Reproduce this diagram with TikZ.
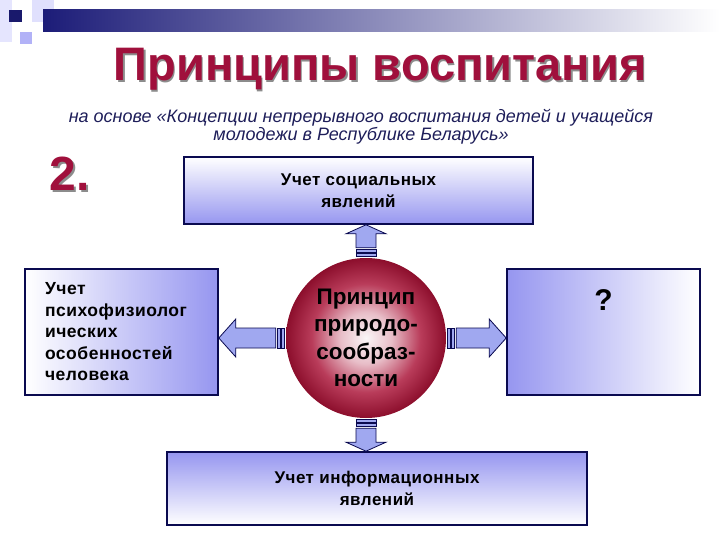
\documentclass[tikz,border=0pt]{standalone}
\usepackage{fontspec}
\setmainfont{Liberation Sans}
\newfontfamily\boxfont[LetterSpace=3]{Liberation Sans}
\usetikzlibrary{calc,shapes.geometric}
\definecolor{navy}{RGB}{10,10,80}
\definecolor{lav}{RGB}{150,150,240}
\definecolor{arrowc}{RGB}{160,168,240}
\definecolor{crim}{RGB}{160,16,60}
\definecolor{subc}{RGB}{30,30,90}
\definecolor{bandc}{RGB}{28,28,120}
\definecolor{ballA}{RGB}{250,246,247}
\definecolor{ballB}{RGB}{232,190,200}
\definecolor{ballC}{RGB}{185,60,90}
\definecolor{ballD}{RGB}{140,14,44}
\pgfdeclareradialshading{ballshade}{\pgfpointorigin}{color(0bp)=(ballA); color(8bp)=(ballB); color(17bp)=(ballC); color(25bp)=(ballD); color(50bp)=(ballD)}
\tikzset{
  box/.style={draw=navy, line width=1.6pt, rectangle, inner sep=0pt},
  boxtxt/.style={font=\boxfont\bfseries\fontsize{17}{22}\selectfont, text=black},
  arr/.style={draw=navy, line width=0.8pt, fill=arrowc, line join=miter},
}
\begin{document}
\begin{tikzpicture}[x=1pt,y=-1pt]
\useasboundingbox (0,0) rectangle (720,540);
\fill[white] (0,0) rectangle (720,540);
% corner decoration
\fill[black!4!blue!10!white] (0,0) rectangle (12,42);
\fill[black!6!blue!12!white] (32,0) rectangle (54,22);
\shade[left color=bandc, right color=white] (43,10) rectangle (720,32);
\fill[bandc!90!black] (9,10) rectangle (22,22);
\fill[black!10!blue!30!white] (20,32) rectangle (32,44);
% title
\node[anchor=base, text=black!45, font=\bfseries\fontsize{47}{52}\selectfont] (ttls) at (381.5,82.5) {Принципы воспитания};
\node[anchor=base, text=crim, font=\bfseries\fontsize{47}{52}\selectfont] (ttl) at (380,81) {Принципы воспитания};
\node[align=center, text=subc, font=\itshape\fontsize{18}{18}\selectfont] (sub) at (361,127) {на основе «Концепции непрерывного воспитания детей и учащейся\\молодежи в Республике Беларусь»};
\node[text=black!45, font=\bfseries\fontsize{48}{48}\selectfont] (nums) at (71.5,175.5) {2.};
\node[text=crim, font=\bfseries\fontsize{48}{48}\selectfont] (num) at (70,174) {2.};
% boxes
\node[box, boxtxt, top color=white, bottom color=lav, minimum width=349pt, minimum height=67pt, align=center] (T) at (358.5,190.5) {Учет социальных\\явлений};
\node[box, boxtxt, left color=white, right color=lav, minimum width=193pt, minimum height=126pt, text width=153pt, align=left, font=\boxfont\bfseries\fontsize{17.5}{21.5}\selectfont] (L) at (121.5,332) {Учет\\психофизиолог\\ических\\особенностей\\человека};
\node[box, left color=lav, right color=white, minimum width=193pt, minimum height=126pt] (R) at (603.5,332) {};
\node[font=\bfseries\fontsize{30}{30}\selectfont] (q) at ($(R.north)+(0,32)$) {?};
\node[box, boxtxt, top color=lav, bottom color=white, minimum width=420pt, minimum height=73pt, align=center] (B) at (377,488.5) {Учет информационных\\явлений};
% circle
\node[circle, minimum size=160pt, inner sep=0pt, shade, shading=ballshade, align=center, font=\bfseries\fontsize{22.5}{27.5}\selectfont] (C) at (366,338) {Принцип\\природо-\\сообраз-\\ности};
% arrows
\draw[arr] (L.east |- C) -- ++(17,-19) -- ++(0,9) -- ($(C.west)+(-10,-10)$) -- ++(0,20) -- ($(L.east |- C)+(17,10)$) -- ++(0,9) -- cycle;
\draw[arr] ($(C.west)+(-8.5,-10)$) rectangle ++(3,20);
\draw[arr] ($(C.west)+(-4,-10)$) rectangle ++(3,20);
\draw[arr] (R.west |- C) -- ++(-17,-19) -- ++(0,9) -- ($(C.east)+(10,-10)$) -- ++(0,20) -- ($(R.west |- C)+(-17,10)$) -- ++(0,9) -- cycle;
\draw[arr] ($(C.east)+(8.5,-10)$) rectangle ++(-3,20);
\draw[arr] ($(C.east)+(4,-10)$) rectangle ++(-3,20);
\draw[arr] (C |- T.south) -- ++(20,9) -- ++(-10,0) -- ($(C.north)+(10,-10)$) -- ++(-20,0) -- ($(C |- T.south)+(-10,9)$) -- ++(-10,0) -- cycle;
\draw[arr] ($(C.north)+(-10,-8.5)$) rectangle ++(20,3);
\draw[arr] ($(C.north)+(-10,-4)$) rectangle ++(20,3);
\draw[arr] (C |- B.north) -- ++(20,-9) -- ++(-10,0) -- ($(C.south)+(10,10)$) -- ++(-20,0) -- ($(C |- B.north)+(-10,-9)$) -- ++(-10,0) -- cycle;
\draw[arr] ($(C.south)+(-10,8.5)$) rectangle ++(20,-3);
\draw[arr] ($(C.south)+(-10,4)$) rectangle ++(20,-3);
\end{tikzpicture}
\end{document}
